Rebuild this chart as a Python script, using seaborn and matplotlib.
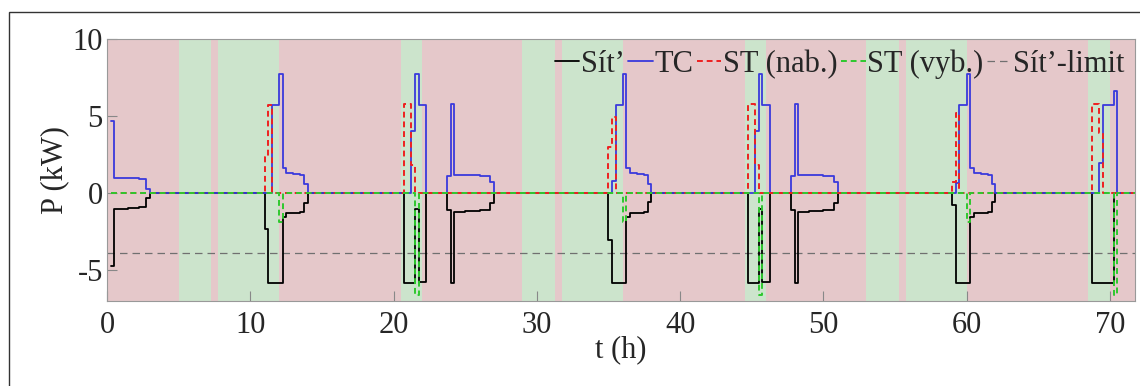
import matplotlib
matplotlib.use("Agg")
import matplotlib.pyplot as plt
from matplotlib.patches import Rectangle
import seaborn as sns

# ---------------- data (step series: change times in h, values in kW) ----------------
T_END = 71.75

sit_t = [0.25, 0.5, 1.5, 2.25, 2.75, 3.0,
         11.0, 11.25, 12.25, 12.5, 13.0, 13.5, 13.75, 14.0,
         20.75, 21.5, 21.75, 22.25,
         23.75, 24.0, 24.25, 25.0, 26.0, 26.75, 27.0,
         35.0, 35.25, 36.25, 36.5, 37.0, 37.5, 37.75, 38.0,
         44.75, 45.5, 45.75, 46.25,
         47.75, 48.0, 48.25, 49.0, 50.0, 50.75, 51.0,
         59.0, 59.25, 60.25, 60.5, 61.0, 61.5, 61.75, 62.0,
         68.75, 70.25]
sit_v = [-4.7, -1.02, -0.97, -0.93, -0.32, 0.0,
         -2.35, -5.8, -1.55, -1.3, -1.26, -1.22, -0.65, 0.0,
         -5.8, -1.05, -5.75, 0.0,
         -1.1, -5.8, -1.2, -1.15, -1.1, -0.67, 0.0,
         -3.05, -5.8, -1.55, -1.3, -1.26, -1.22, -0.6, 0.0,
         -5.8, -1.05, -5.75, 0.0,
         -1.1, -5.8, -1.2, -1.15, -1.1, -0.67, 0.0,
         -0.74, -5.8, -1.55, -1.3, -1.26, -1.22, -0.6, 0.0,
         -5.8, 0.0]

tc_t = [0.25, 0.5, 1.5, 2.25, 2.75, 3.0,
        11.5, 12.0, 12.25, 12.5, 13.0, 13.5, 13.75, 14.0,
        21.25, 21.5, 21.75, 22.25,
        23.75, 24.0, 24.25, 25.0, 26.0, 26.75, 27.0,
        35.25, 35.5, 36.0, 36.25, 36.5, 37.0, 37.5, 37.75, 38.0,
        45.25, 45.5, 45.75, 46.25,
        47.75, 48.0, 48.25, 49.0, 50.0, 50.75, 51.0,
        59.25, 59.5, 60.0, 60.25, 60.5, 61.0, 61.5, 61.75, 62.0,
        69.25, 69.5, 70.25, 70.5]
tc_v = [4.7, 0.99, 0.95, 0.91, 0.24, 0.0,
        5.75, 7.7, 1.6, 1.28, 1.24, 1.2, 0.57, 0.0,
        4.0, 7.7, 5.7, 0.0,
        1.12, 5.8, 1.2, 1.15, 1.08, 0.7, 0.0,
        0.8, 5.7, 7.7, 1.6, 1.28, 1.24, 1.2, 0.58, 0.0,
        4.0, 7.7, 5.7, 0.0,
        1.12, 5.8, 1.2, 1.15, 1.08, 0.7, 0.0,
        0.63, 5.7, 7.7, 1.6, 1.28, 1.24, 1.2, 0.58, 0.0,
        1.93, 5.7, 6.6, 0.0]

nab_t = [0.25, 11.0, 11.25, 11.5, 20.75, 21.25, 21.5, 35.0, 35.25, 35.5,
         44.75, 45.25, 45.5, 59.0, 59.25, 59.5, 68.75, 69.25, 69.5]
nab_v = [0.0, 2.35, 5.75, 0.0, 5.8, 1.8, 0.0, 3.0, 4.95, 0.0,
         5.8, 1.8, 0.0, 0.74, 5.17, 0.0, 5.8, 3.87, 0.0]

vyb_t = [0.25, 12.0, 12.25, 21.5, 21.75, 36.0, 36.25, 45.5, 45.75,
         60.0, 60.25, 70.25, 70.5]
vyb_v = [0.0, -1.9, 0.0, -6.6, 0.0, -1.9, 0.0, -6.6, 0.0,
         -1.9, 0.0, -6.6, 0.0]

sit_limit = -3.9

# tariff zones (alternating: high = pink, low = green)
zone_edges = [0, 5, 7.25, 7.75, 12, 20.5, 22, 29, 31.25, 31.75, 36, 44.5, 46,
              53, 55.25, 55.75, 60, 68.5, 70, 71.75]
zone_kind = ["vt", "nt", "vt", "nt", "vt", "nt", "vt", "nt", "vt", "nt",
             "vt", "nt", "vt", "nt", "vt", "nt", "vt", "nt", "vt"]

labels = ["Sít’", "TC", "ST (nab.)", "ST (vyb.)", "Sít’-limit"]
x_ticks = [0, 10, 20, 30, 40, 50, 60, 70]
y_ticks = [-5, 0, 5, 10]

# ---------------- style ----------------
sns.set_style("white")
plt.rcParams["font.family"] = ["Liberation Serif", "DejaVu Serif"]
plt.rcParams["axes.unicode_minus"] = False

W, H = 1140, 386
fig = plt.figure(figsize=(W / 100, H / 100), dpi=100)
ax = fig.add_axes([107 / W, 85 / H, (1135 - 107) / W, (301 - 39) / H])

zone_col = {"vt": "#e5c8ca", "nt": "#cce4cc"}
for a, b, k in zip(zone_edges[:-1], zone_edges[1:], zone_kind):
    ax.axvspan(a, b, color=zone_col[k], lw=0, zorder=0)


def steps(t, v):
    return list(t) + [T_END], list(v) + [v[-1]]


specs = [
    (sit_t, sit_v, "black", "-", 1.3, 2.1),
    (tc_t, tc_v, "#3a3adc", "-", 1.3, 2.2),
    (nab_t, nab_v, "#ee2020", (0, (3, 2)), 1.4, 2.3),
    (vyb_t, vyb_v, "#2ec82e", (0, (3, 2)), 1.4, 2.4),
]
handles = []
for (t, v, c, ls, lw, z), lab in zip(specs, labels[:4]):
    x, y = steps(t, v)
    sns.lineplot(x=x, y=y, ax=ax, color=c, linestyle=ls, lw=lw,
                 drawstyle="steps-post", estimator=None, sort=False,
                 zorder=z, legend=False)
    handles.append(ax.lines[-1])

sns.lineplot(x=[0, T_END], y=[sit_limit, sit_limit], ax=ax, color="#707070",
             linestyle=(0, (6, 4)), lw=0.9, estimator=None, sort=False,
             zorder=2.05, legend=False)
handles.append(ax.lines[-1])

ax.set_xlim(0, T_END)
ax.set_ylim(-7, 10)
ax.set_xticks(x_ticks)
ax.set_yticks(y_ticks)
ax.tick_params(direction="in", length=7, width=0.8, color="#888888",
               labelsize=22, pad=3, bottom=True, left=True, top=False, right=False)
ax.tick_params(axis="x", pad=7)
for s in ax.spines.values():
    s.set_color("#999999")
    s.set_linewidth(0.8)

ax.set_xlabel("t (h)", fontsize=22, labelpad=-3)
ax.set_ylabel("P (kW)", fontsize=22, labelpad=2)

ax.legend(handles, labels, loc="upper right", ncol=5, frameon=False,
          handlelength=0.8, handletextpad=0.05, columnspacing=0.12,
          borderaxespad=0.2, borderpad=0.15, fontsize=22)

# outer frame
fig.patches.append(Rectangle((9 / W, -0.5), 1.5, 0.5 + (H - 12) / H, fill=False,
                             ec="#333333", lw=1.0, transform=fig.transFigure,
                             figure=fig))

fig.savefig("out.png", dpi=100)
